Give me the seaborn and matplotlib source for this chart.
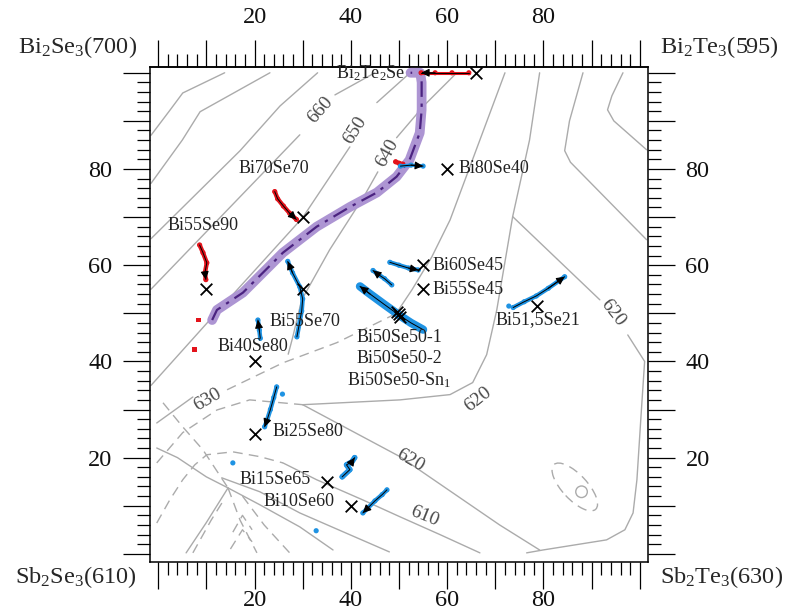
import matplotlib
matplotlib.use('Agg')
import matplotlib.pyplot as plt
import seaborn as sns
import numpy as np
from matplotlib.patches import Ellipse
from matplotlib.ticker import FixedLocator, FuncFormatter

sns.set_theme(style='white')
plt.rcParams['font.family'] = ['Liberation Serif', 'DejaVu Serif']
plt.rcParams['mathtext.fontset'] = 'custom'
plt.rcParams['mathtext.rm'] = 'Liberation Serif'
plt.rcParams['mathtext.it'] = 'Liberation Serif:italic'
plt.rcParams['mathtext.bf'] = 'Liberation Serif:bold'

# ---------------- data ----------------
corner_labels = [r"Bi$_2$Se$_3$(700)", r"Bi$_2$Te$_3$(595)", r"Sb$_2$Se$_3$(610)", r"Sb$_2$Te$_3$(630)"]
tick_values = [20, 40, 60, 80]

# isotherms, solid
iso690_x = [-1.5, 2.5, 5.1, 13.8]
iso690_y = [87.0, 92.3, 95.8, 100.0]
iso680_x = [-1.5, 5.0, 8.7, 23.2]
iso680_y = [77.0, 86.0, 91.9, 100.0]
iso670_x = [-1.5, 17.0, 25.3, 33.1]
iso670_y = [65.5, 83.8, 93.1, 100.0]
iso660a_x = [-1.5, 29.4]
iso660a_y = [55.0, 87.1]
iso660b_x = [36.7, 45.0]
iso660b_y = [95.4, 100.0]
iso650a_x = [-1.5, 10.7, 30.0, 39.8]
iso650a_y = [35.0, 48.6, 69.9, 84.6]
iso650b_x = [45.4, 52.3]
iso650b_y = [93.8, 100.0]
iso640a_x = [27.0, 27.9, 29.8, 35.6, 42.9, 45.6]
iso640a_y = [41.5, 44.9, 52.8, 63.2, 74.6, 79.4]
iso640b_x = [49.5, 55.3, 62.0]
iso640b_y = [86.5, 93.3, 100.0]
bnd1_x = [49.5, 52.7, 56.8, 60.6, 72.0]
bnd1_y = [50.1, 54.9, 61.7, 69.4, 100.0]
ur1_x = [88.2, 85.4, 84.4, 85.6, 101.4]
ur1_y = [100.0, 90.0, 83.8, 81.4, 65.3]
ur2_x = [96.5, 94.2, 93.3, 94.6, 101.4]
ur2_y = [100.0, 95.2, 92.3, 90.0, 84.0]
iso630s_x = [-0.3, 7.2]
iso630s_y = [27.2, 32.6]
iso620a_x = [79.2, 77.1, 73.6, 70.3, 68.2, 65.3, 60.6, 50.2, 30.0]
iso620a_y = [100.0, 86.0, 70.1, 50.7, 41.4, 35.6, 33.1, 32.0, 31.0]
iso620b_x = [73.6, 91.7]
iso620b_y = [70.1, 52.8]
iso620c_x = [97.5, 101.0, 100.2, 99.4, 98.6, 96.9, 93.1, 79.9, 76.5]
iso620c_y = [45.5, 40.0, 27.9, 15.4, 8.5, 5.0, 2.9, 0.8, 0.2]
iso620d_x = [30.0, 50.2, 70.9, 79.2]
iso620d_y = [31.0, 20.2, 6.0, 0.8]
iso610s_x = [25.9, 32.9, 42.5, 50.2, 58.5, 66.8]
iso610s_y = [18.9, 15.4, 11.2, 7.7, 4.0, 0.2]
low1_x = [13.2, 21.1, 29.4, 38.8, 48.0]
low1_y = [15.8, 12.9, 8.5, 4.4, 0.4]
low2_x = [14.5, 21.1, 29.4, 36.3]
low2_y = [13.7, 10.2, 5.6, 0.8]
low3_x = [14.5, 10.0, 5.8]
low3_y = [13.7, 6.5, 0.2]
low4_x = [14.5, 10.0, 4.0, -0.3]
low4_y = [13.7, 16.0, 20.0, 22.0]
# isotherms / boundaries, dashed
iso630d_x = [14.3, 25.9, 37.1, 48.1, 49.5]
iso630d_y = [34.1, 39.7, 43.9, 49.3, 50.1]
iso620e_x = [-0.3, 5.1, 12.2, 19.0, 30.0]
iso620e_y = [18.9, 25.2, 29.9, 32.0, 31.0]
iso610d_x = [-0.3, 2.4, 5.1, 7.6, 10.1, 15.5, 21.1, 25.9]
iso610d_y = [6.4, 11.2, 15.4, 18.5, 20.6, 21.2, 20.2, 18.9]
dsh2_x = [1.0, 5.0, 9.3, 12.0, 14.5]
dsh2_y = [31.4, 26.5, 21.6, 17.5, 13.7]
dsha_x = [14.5, 17.0, 20.5]
dsha_y = [13.7, 7.0, 0.2]
dshb_x = [17.5, 22.0, 27.3]
dshb_y = [12.0, 6.0, 0.2]
dshc_x = [7.2, 11.0, 13.5]
dshc_y = [0.2, 7.0, 11.0]
chev1_x = [15.0, 17.5, 19.5]
chev1_y = [1.0, 5.0, 2.5]
chev2_x = [15.5, 17.5, 19.5]
chev2_y = [4.5, 8.0, 5.0]

iso_lbl_text = ["660", "650", "640", "630", "620", "620", "620", "610"]
iso_lbl_x = [33.6, 40.8, 47.5, 10.2, 94.4, 66.4, 52.3, 55.3]
iso_lbl_y = [92.3, 88.1, 83.4, 32.0, 50.1, 32.0, 19.5, 7.7]
iso_lbl_rot = [49, 58, 61, 30, -52, 38, -30, -22]

ell_center = (86.5, 13.9)
ell_size = (12.7, 5.2)
ell_angle = -47
circ_center = (87.9, 12.9)
circ_size = (2.4, 2.4)

purple_x = [11.2, 12.2, 17.6, 25.9, 32.9, 39.8, 45.4, 49.5, 52.2, 54.3, 54.7, 54.7, 54.4, 52.4]
purple_y = [48.6, 50.7, 54.3, 62.6, 68.0, 72.1, 75.1, 78.4, 81.9, 87.5, 92.3, 98.0, 100.0, 100.0]

tr_bi2te2se_x = [64.5, 61.0, 57.5, 54.6]
tr_bi2te2se_y = [100.0, 100.0, 100.0, 100.0]
tr_bi80se40r_x = [49.3, 50.0, 50.8]
tr_bi80se40r_y = [81.5, 81.2, 81.0]
tr_bi70se70_x = [24.2, 24.8, 26.0, 27.3, 28.7]
tr_bi70se70_y = [75.3, 73.8, 72.3, 70.8, 69.5]
tr_bi55se90_x = [8.6, 9.3, 10.1, 9.7, 9.9]
tr_bi55se90_y = [64.2, 62.6, 60.5, 58.4, 57.0]
red_dots_x = [8.3, 7.6]
red_dots_y = [48.6, 42.4]
tr_bi80se40_x = [50.3, 52.5, 55.0]
tr_bi80se40_y = [80.6, 80.8, 80.6]
tr_bi55se70_x = [28.8, 29.8, 30.0, 29.4, 27.9, 26.9]
tr_bi55se70_y = [45.1, 50.5, 53.0, 55.5, 58.4, 60.8]
tr_bi40se80_x = [21.2, 21.0, 20.7]
tr_bi40se80_y = [44.8, 46.5, 48.6]
tr_bi60se45_x = [48.1, 50.0, 52.0, 54.0]
tr_bi60se45_y = [60.6, 60.0, 59.4, 59.0]
tr_bi55se45_x = [48.5, 47.0, 45.5, 44.6]
tr_bi55se45_y = [55.9, 57.2, 58.2, 58.9]
tr_bi50se50_x = [55.0, 52.5, 50.2, 47.0, 44.0, 41.9]
tr_bi50se50_y = [46.6, 48.0, 49.5, 51.8, 54.0, 55.6]
tr_bi515se21_x = [73.7, 76.0, 78.5, 81.0, 84.4]
tr_bi515se21_y = [51.2, 52.4, 53.6, 55.2, 57.6]
tr_bi25se80_x = [24.6, 24.0, 23.3, 22.6, 22.1]
tr_bi25se80_y = [34.7, 32.5, 30.0, 27.8, 26.4]
tr_bi15se65_x = [38.2, 39.8, 39.1, 40.2, 40.8]
tr_bi15se65_y = [16.0, 17.5, 18.5, 19.1, 20.0]
tr_bi10se60_x = [47.5, 46.5, 45.0, 43.5, 42.5]
tr_bi10se60_y = [13.3, 12.3, 11.0, 9.5, 8.5]
blue_dots_x = [15.5, 32.8, 72.8, 25.8]
blue_dots_y = [18.9, 4.8, 51.5, 33.2]

mark_x = [66.0, 60.0, 30.0, 10.0, 30.0, 55.0, 55.0, 50.0, 49.6, 50.3, 78.6, 20.0, 20.0, 35.0, 40.0]
mark_y = [100.0, 80.0, 70.0, 55.0, 55.0, 60.0, 55.0, 49.8, 50.3, 49.3, 51.6, 40.0, 25.0, 15.0, 10.0]

lbl_text = [r"Bi$_2$Te$_2$Se", "Bi80Se40", "Bi70Se70", "Bi55Se90", "Bi60Se45", "Bi55Se45",
            "Bi50Se50-1", "Bi50Se50-2", r"Bi50Se50-Sn$_1$", "Bi51,5Se21", "Bi55Se70",
            "Bi40Se80", "Bi25Se80", "Bi15Se65", "Bi10Se60"]
lbl_x = [51.3, 62.3, 24.0, 9.3, 57.0, 57.0, 50.0, 50.0, 50.0, 78.8, 23.2, 19.7, 23.8, 31.6, 36.6]
lbl_y = [100.0, 80.0, 80.0, 68.2, 60.0, 55.0, 45.0, 40.5, 36.0, 48.6, 48.2, 43.0, 25.4, 15.4, 10.8]
lbl_ha = ['right', 'left', 'center', 'center', 'left', 'left', 'center', 'center', 'center',
          'center', 'left', 'center', 'left', 'right', 'right']

# ---------------- figure ----------------
fig = plt.figure(figsize=(7.9, 6.11), dpi=100)
ax = fig.add_axes([150/790, 49/611, 498/790, 495/611])
ax.set_xlim(-1.7, 101.7)
ax.set_ylim(-1.7, 101.2)

GRAY = '#ababab'
LW = 1.0

def line(x, y, ls='-', color=GRAY, lw=LW, z=1):
    sns.lineplot(x=x, y=y, sort=False, estimator=None, ax=ax, color=color,
                 linewidth=lw, linestyle=ls, zorder=z)

solid_lines = [(iso690_x, iso690_y), (iso680_x, iso680_y), (iso670_x, iso670_y),
               (iso660a_x, iso660a_y), (iso660b_x, iso660b_y), (iso650a_x, iso650a_y),
               (iso650b_x, iso650b_y), (iso640a_x, iso640a_y), (iso640b_x, iso640b_y),
               (bnd1_x, bnd1_y), (ur1_x, ur1_y), (ur2_x, ur2_y),
               (iso630s_x, iso630s_y), (iso620a_x, iso620a_y),
               (iso620b_x, iso620b_y), (iso620c_x, iso620c_y), (iso620d_x, iso620d_y),
               (iso610s_x, iso610s_y), (low1_x, low1_y),
               (low2_x, low2_y), (low3_x, low3_y), (low4_x, low4_y)]
for x, y in solid_lines:
    line(x, y)
dashed_lines = [(iso630d_x, iso630d_y), (iso620e_x, iso620e_y), (iso610d_x, iso610d_y),
                (dsh2_x, dsh2_y), (dsha_x, dsha_y), (dshb_x, dshb_y), (dshc_x, dshc_y),
                (chev1_x, chev1_y), (chev2_x, chev2_y)]
for x, y in dashed_lines:
    line(x, y, ls=(0, (7, 4.5)))

ax.add_patch(Ellipse(ell_center, ell_size[0], ell_size[1], angle=ell_angle, fill=False,
                     ec=GRAY, lw=LW, ls=(0, (7, 4.5))))
ax.add_patch(Ellipse(circ_center, circ_size[0], circ_size[1], fill=False, ec=GRAY, lw=LW))

for t, x, y, r in zip(iso_lbl_text, iso_lbl_x, iso_lbl_y, iso_lbl_rot):
    ax.text(x, y, t, rotation=r, ha='center', va='center', fontsize=14, color='#4a4a4a',
            rotation_mode='anchor', zorder=3)

line(purple_x, purple_y, color='#ad95d3', lw=7, z=4)
line(purple_x, purple_y, color='#4b2380', lw=1.6, ls=(0, (7, 3, 1.5, 3)), z=5)

RED = '#e3131b'
BLUE = '#1f93e3'

def traj(x, y, color, lw=3.2, arrow=True):
    line(x, y, color=color, lw=lw, z=6)
    sns.scatterplot(x=x, y=y, ax=ax, color=color, s=14, edgecolor='none', zorder=6, legend=False)
    if arrow:
        line(x, y, color='black', lw=0.7, z=7)
        ax.annotate('', xy=(x[-1], y[-1]), xytext=(x[-2], y[-2]),
                    arrowprops=dict(arrowstyle='-|>', color='black', lw=0.8,
                                    mutation_scale=12, shrinkA=0, shrinkB=0), zorder=8)

traj(tr_bi2te2se_x, tr_bi2te2se_y, RED, lw=2.2)
traj(tr_bi80se40r_x, tr_bi80se40r_y, RED, arrow=False)
traj(tr_bi70se70_x, tr_bi70se70_y, RED)
traj(tr_bi55se90_x, tr_bi55se90_y, RED)
sns.scatterplot(x=red_dots_x, y=red_dots_y, ax=ax, color=RED, s=12, marker='s', edgecolor='none', zorder=6, legend=False)
traj(tr_bi80se40_x, tr_bi80se40_y, BLUE, lw=2.5)
traj(tr_bi55se70_x, tr_bi55se70_y, BLUE)
traj(tr_bi40se80_x, tr_bi40se80_y, BLUE)
traj(tr_bi60se45_x, tr_bi60se45_y, BLUE)
traj(tr_bi55se45_x, tr_bi55se45_y, BLUE)
traj(tr_bi50se50_x, tr_bi50se50_y, BLUE, lw=6)
traj(tr_bi515se21_x, tr_bi515se21_y, BLUE)
traj(tr_bi25se80_x, tr_bi25se80_y, BLUE)
traj(tr_bi15se65_x, tr_bi15se65_y, BLUE, lw=4)
traj(tr_bi10se60_x, tr_bi10se60_y, BLUE)
sns.scatterplot(x=blue_dots_x, y=blue_dots_y, ax=ax, color=BLUE, s=14, edgecolor='none', zorder=6, legend=False)

sns.scatterplot(x=mark_x, y=mark_y, ax=ax, marker='x', color='black', s=70, linewidth=1.3, zorder=9, legend=False)

for t, x, y, ha in zip(lbl_text, lbl_x, lbl_y, lbl_ha):
    ax.text(x, y, t, ha=ha, va='center', fontsize=13, color='#222222', zorder=10)

# ---------------- axes / ticks ----------------
for s in ax.spines.values():
    s.set_color('black')
    s.set_linewidth(1.1)
    s.set_visible(True)

fmt = FuncFormatter(lambda v, p: str(int(round(v))) if int(round(v)) in tick_values else '')
major_locs = list(range(0, 101, 10))
minor_locs = [v for v in range(0, 101, 2) if v % 10]

def setup_axis(axis):
    axis.set_major_locator(FixedLocator(major_locs))
    axis.set_minor_locator(FixedLocator(minor_locs))
    axis.set_major_formatter(fmt)

setup_axis(ax.xaxis)
setup_axis(ax.yaxis)

MAJ, MIN, TW, LS = 19.5, 9.5, 0.9, 17.5
ax.tick_params(axis='both', which='major', direction='out', length=MAJ, width=TW,
               color='black', labelsize=LS, labelcolor='#111111')
ax.tick_params(axis='both', which='minor', direction='out', length=MIN, width=TW, color='black')
ax.tick_params(axis='x', which='both', bottom=True, top=False, labelbottom=True, labeltop=False)
ax.tick_params(axis='x', which='major', pad=0.5)
ax.tick_params(axis='y', which='both', left=True, right=True, labelleft=True, labelright=True)
ax.tick_params(axis='y', which='major', pad=7.5)

secx = ax.secondary_xaxis('top')
setup_axis(secx.xaxis)
secx.tick_params(axis='x', which='major', direction='out', length=MAJ, width=TW,
                 color='black', labelsize=LS, labelcolor='#111111', pad=8.5)
secx.tick_params(axis='x', which='minor', direction='out', length=MIN, width=TW, color='black')
secx.spines['top'].set_linewidth(1.1)
secx.spines['top'].set_color('black')

ax.set_xlabel('')
ax.set_ylabel('')

CF = 17.5
fig.text(137/790, 1 - 47/611, corner_labels[0], ha='right', va='center', fontsize=CF)
fig.text(660/790, 1 - 47/611, corner_labels[1], ha='left', va='center', fontsize=CF)
fig.text(137/790, 1 - 577/611, corner_labels[2], ha='right', va='center', fontsize=CF)
fig.text(660/790, 1 - 577/611, corner_labels[3], ha='left', va='center', fontsize=CF)

fig.savefig('out.png', dpi=100, facecolor='white')
